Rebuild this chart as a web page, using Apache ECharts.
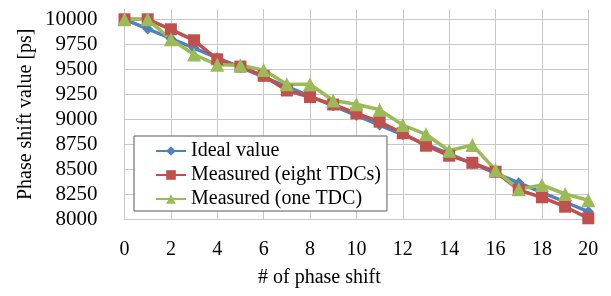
<!DOCTYPE html>
<html>
<head>
<meta charset="utf-8">
<script src="https://cdn.jsdelivr.net/npm/echarts@6/dist/echarts.min.js"></script>
<style>html,body{margin:0;padding:0;background:#fff}#c{width:611px;height:296px}</style>
</head>
<body>
<div id="c"></div>
<script>
var phaseIndex = [0,1,2,3,4,5,6,7,8,9,10,11,12,13,14,15,16,17,18,19,20];
var idealValue = [10000,9904,9808,9712,9615,9519,9423,9327,9231,9135,9038,8942,8846,8750,8654,8558,8462,8365,8269,8173,8077];
var measuredEight = [10000,10000,9900,9790,9600,9527,9435,9288,9222,9148,9060,8976,8860,8736,8636,8565,8476,8293,8220,8126,8010];
var measuredOne = [10000,10000,9800,9648,9545,9540,9492,9350,9350,9188,9150,9095,8943,8850,8686,8743,8493,8300,8343,8253,8190];
var seriesNames = ['Ideal value','Measured (eight TDCs)','Measured (one TDC)'];
var xTitle = '# of phase shift';
var yTitle = 'Phase shift value [ps]';

function pairs(vals){ return phaseIndex.map(function(x,i){ return [x, vals[i]]; }); }

var FONT = '"Liberation Serif", "Times New Roman", serif';
var GRIDC = '#c8c8c8';
var chart = echarts.init(document.getElementById('c'), null, {renderer:'canvas'});
chart.setOption({
  animation: false,
  title: {text: xTitle, left: 258, top: 268, padding: 0,
    textStyle: {fontFamily: FONT, fontSize: 20, fontWeight: 'normal', color: '#000'}},
  grid: [
    {left: 124.5, right: 22.7, top: 9.3, bottom: 76.7},
    {left: 124.5, right: 22.7, top: 19.3, bottom: 76.7}
  ],
  legend: {
    orient: 'vertical', left: 134, top: 136,
    backgroundColor: '#fff', borderColor: '#595959', borderWidth: 1,
    padding: [5, 6, 2, 21], itemWidth: 30, itemHeight: 12, itemGap: 4,
    textStyle: {fontFamily: FONT, fontSize: 20, color: '#000', lineHeight: 20},
    data: seriesNames
  },
  xAxis: [
    {gridIndex: 0, type: 'value', min: 0, max: 20, interval: 2,
     axisLine: {show: true, lineStyle: {color: GRIDC, width: 1}},
     axisTick: {show: false},
     splitLine: {show: true, lineStyle: {color: GRIDC, width: 1}},
     axisLabel: {fontFamily: FONT, fontSize: 20, color: '#000', margin: 20}},
    {gridIndex: 1, type: 'value', min: 0, max: 20, show: false}
  ],
  yAxis: [
    {gridIndex: 0, type: 'value', min: 8000, max: 10100,
     axisLine: {show: true, lineStyle: {color: GRIDC, width: 1}},
     axisTick: {show: false}, axisLabel: {show: false}, splitLine: {show: false},
     name: yTitle, nameLocation: 'middle', nameGap: 89,
     nameTextStyle: {fontFamily: FONT, fontSize: 20, color: '#000'}},
    {gridIndex: 1, type: 'value', min: 8000, max: 10000, interval: 250,
     axisLine: {show: false}, axisTick: {show: false},
     splitLine: {show: true, lineStyle: {color: GRIDC, width: 1}},
     axisLabel: {fontFamily: FONT, fontSize: 21, color: '#000', margin: 27,
       formatter: function(v){ return String(v); }}}
  ],
  series: [
    {name: seriesNames[0], type: 'line', xAxisIndex: 0, yAxisIndex: 0, clip: false,
     data: pairs(idealValue), symbol: 'diamond', symbolSize: 11, showAllSymbol: true,
     itemStyle: {color: '#4F81BD'}, lineStyle: {color: '#4F81BD', width: 3.5}},
    {name: seriesNames[1], type: 'line', xAxisIndex: 0, yAxisIndex: 0, clip: false,
     data: pairs(measuredEight), symbol: 'rect', symbolSize: 12, showAllSymbol: true,
     itemStyle: {color: '#C0504D'}, lineStyle: {color: '#C0504D', width: 3.5}},
    {name: seriesNames[2], type: 'line', xAxisIndex: 0, yAxisIndex: 0, clip: false,
     data: pairs(measuredOne), symbol: 'triangle', symbolSize: 14, showAllSymbol: true,
     itemStyle: {color: '#9BBB59'}, lineStyle: {color: '#9BBB59', width: 3.5}}
  ]
});
</script>
</body>
</html>
